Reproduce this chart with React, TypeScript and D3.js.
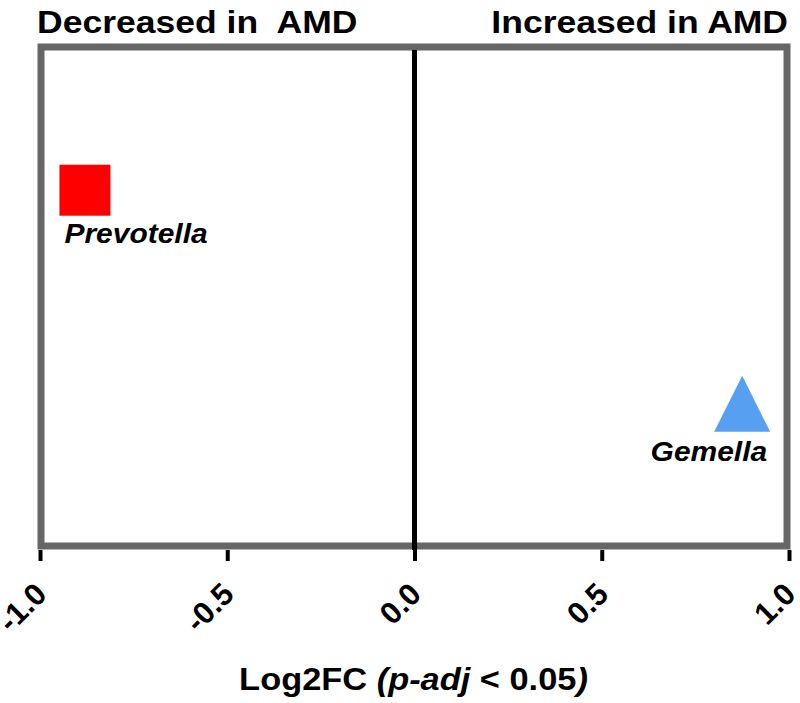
import React, { useEffect, useRef } from 'react';
import * as d3 from 'd3';

// data
const genera = ["Prevotella", "Gemella"];
const log2fc = [-0.88, 0.875];
const rowPos = [0.713, 0.285]; // vertical placement inside panel (0 = bottom, 1 = top)
const shapes = ["square", "triangle"];
const colors = ["#ff0000", "#579ff0"];
const xTicks = [-1.0, -0.5, 0.0, 0.5, 1.0];
const sideLabels = ["Decreased in  AMD", "Increased in AMD"];

const FONT = "'Liberation Sans', Arial, sans-serif";
const STRETCH = 1.11;

const App = () => {
  const ref = useRef(null);

  useEffect(() => {
    d3.select(ref.current).selectAll("*").remove();

    const width = 800;
    const height = 703;
    const margin = { top: 47, right: 11, bottom: 157, left: 40 };

    const svg = d3.select(ref.current)
      .attr("width", width)
      .attr("height", height);

    const x = d3.scaleLinear()
      .domain([-1, 1])
      .range([margin.left, width - margin.right]);

    const y = d3.scaleLinear()
      .domain([0, 1])
      .range([height - margin.bottom, margin.top]);

    // panel frame
    svg.append("rect")
      .attr("x", x(-1) + 1)
      .attr("y", y(1))
      .attr("width", x(1) - x(-1) - 3)
      .attr("height", y(0) - y(1))
      .attr("fill", "none")
      .attr("stroke", "#666666")
      .attr("stroke-width", 7);

    // zero line
    svg.append("line")
      .attr("x1", x(0))
      .attr("x2", x(0))
      .attr("y1", y(1) + 3)
      .attr("y2", y(0) + 4)
      .attr("stroke", "#000")
      .attr("stroke-width", 5);

    // x axis (plain hyphen for negatives, as in the original)
    const axis = svg.append("g")
      .attr("transform", `translate(0,${y(0) + 4})`)
      .call(d3.axisBottom(x).tickValues(xTicks).tickFormat(d => d.toFixed(1)).tickSize(11));

    axis.select(".domain").remove();
    axis.selectAll(".tick line")
      .attr("stroke", "#000")
      .attr("stroke-width", 4);
    axis.selectAll(".tick text")
      .attr("x", 0)
      .attr("y", 0)
      .attr("dy", null)
      .attr("text-anchor", "end")
      .attr("transform", "translate(8,46) rotate(-45)")
      .attr("fill", "#000")
      .style("font-family", FONT)
      .style("font-weight", "bold")
      .style("font-size", "31px");

    // side labels above panel
    svg.append("text")
      .attr("transform", `translate(37,33) scale(${STRETCH},1)`)
      .attr("text-anchor", "start")
      .style("font-family", FONT)
      .style("font-weight", "bold")
      .style("font-size", "32px")
      .attr("xml:space", "preserve")
      .text(sideLabels[0]);

    svg.append("text")
      .attr("transform", `translate(788,33) scale(${STRETCH},1)`)
      .attr("text-anchor", "end")
      .style("font-family", FONT)
      .style("font-weight", "bold")
      .style("font-size", "32px")
      .text(sideLabels[1]);

    // points
    const pts = genera.map((g, i) => ({ name: g, fc: log2fc[i], pos: rowPos[i], shape: shapes[i], color: colors[i] }));

    pts.forEach(d => {
      const cx = x(d.fc);
      const cy = y(d.pos);
      if (d.shape === "square") {
        svg.append("rect")
          .attr("x", cx - 25.5)
          .attr("y", cy - 25.5)
          .attr("width", 51)
          .attr("height", 51)
          .attr("fill", d.color);
        svg.append("text")
          .attr("transform", `translate(${cx - 20.5},${cy + 53}) scale(${STRETCH},1)`)
          .attr("text-anchor", "start")
          .style("font-family", FONT)
          .style("font-weight", "bold")
          .style("font-style", "italic")
          .style("font-size", "27px")
          .text(d.name);
      } else {
        const h = 28;
        svg.append("path")
          .attr("d", `M${cx},${cy - h}L${cx + h},${cy + h}L${cx - h},${cy + h}Z`)
          .attr("fill", d.color);
        svg.append("text")
          .attr("transform", `translate(${cx + 25},${cy + 57}) scale(${STRETCH},1)`)
          .attr("text-anchor", "end")
          .style("font-family", FONT)
          .style("font-weight", "bold")
          .style("font-style", "italic")
          .style("font-size", "27px")
          .text(d.name);
      }
    });

    // axis title
    const title = svg.append("text")
      .attr("transform", `translate(${x(0) - 1},690) scale(${STRETCH},1)`)
      .attr("text-anchor", "middle")
      .style("font-family", FONT)
      .style("font-weight", "bold")
      .style("font-size", "31px");
    title.append("tspan").text("Log2FC ");
    title.append("tspan").style("font-style", "italic").text("(p-adj");
    title.append("tspan").attr("xml:space", "preserve").text(" < 0.05");
    title.append("tspan").style("font-style", "italic").text(")");
  }, []);

  return <svg ref={ref} style={{ position: "absolute", left: 0, top: 0 }}></svg>;
};

export default App;
